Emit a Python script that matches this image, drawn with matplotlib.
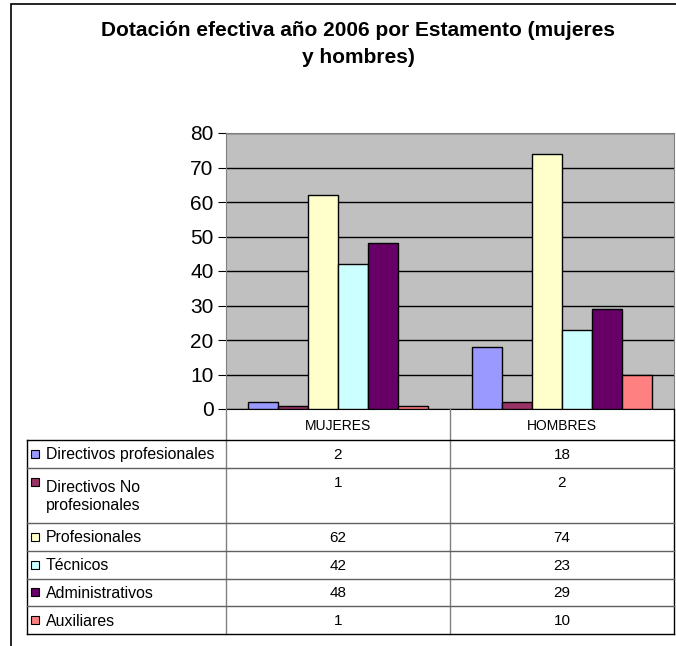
import matplotlib.pyplot as plt
import numpy as np
from matplotlib.patches import Rectangle

plt.rcParams['font.family'] = ['Liberation Sans', 'DejaVu Sans']

# ~~~~~~~~ DATA ~~~~~~~~
categories = ['MUJERES', 'HOMBRES']
series = ['Directivos profesionales', 'Directivos No\nprofesionales', 'Profesionales',
          'Técnicos', 'Administrativos', 'Auxiliares']
values = [[2, 18], [1, 2], [62, 74], [42, 23], [48, 29], [1, 10]]
colors = ['#9999FF', '#993366', '#FFFFCC', '#CCFFFF', '#660066', '#FF8080']
yticks = [0, 10, 20, 30, 40, 50, 60, 70, 80]
title = 'Dotación efectiva año 2006 por Estamento (mujeres\ny hombres)'

W, H = 676, 646
fig = plt.figure(figsize=(W / 100, H / 100), dpi=100)

# outer frame (cut off on right/bottom like the original)
fig.add_artist(Rectangle((11 / W, -0.1), 1.2, (H - 4) / H + 0.1, transform=fig.transFigure,
                         fill=False, edgecolor='black', lw=1.2))

fig.text(358 / W, 1 - 44 / H, title, ha='center', va='center', fontsize=15,
         fontweight='bold', linespacing=1.55)

# ~~~~~~~~ bar chart ~~~~~~~~
px_l, px_r, px_t, px_b = 226, 674, 133, 409
ax = fig.add_axes([px_l / W, 1 - px_b / H, (px_r - px_l) / W, (px_b - px_t) / H])
ax.set_facecolor('#C0C0C0')
x = np.arange(len(categories))
n = len(series)
bw = 0.8 / n
for i in range(n):
    ax.bar(x - 0.4 + bw * (i + 0.5), values[i], width=bw, color=colors[i],
           edgecolor='black', lw=1, zorder=3)
ax.set_xlim(-0.5, len(categories) - 0.5)
ax.set_ylim(0, 80)
ax.set_yticks(yticks)
ax.set_xticks([])
ax.tick_params(axis='y', labelsize=15, length=6, direction='out', pad=3)
ax.yaxis.grid(True, color='black', lw=1, zorder=1)
ax.set_axisbelow(True)
for s in ['left', 'top', 'right']:
    ax.spines[s].set_color('#808080')
ax.spines['bottom'].set_color('black')

# ~~~~~~~~ data table ~~~~~~~~
tax = fig.add_axes([0, 0, 1, 1])
tax.set_xlim(0, W)
tax.set_ylim(H, 0)
tax.axis('off')
t_left = 27
col_edges = [px_l, 450, px_r]
row_h = 27.7
heights = [2 if '\n' in s else 1 for s in series]
row_tops = [440]
for h in heights:
    row_tops.append(row_tops[-1] + h * row_h)

# header row
for j, c in enumerate(categories):
    tax.text((col_edges[j] + col_edges[j + 1]) / 2, (px_b + 440) / 2 + 1, c, ha='center',
             va='center', fontsize=10)
for xe in col_edges:
    tax.plot([xe, xe], [px_b, row_tops[-1]], color='#808080' if xe != px_r else 'black', lw=1)
tax.plot([t_left, t_left], [440, row_tops[-1]], color='black', lw=1)
for k, yy in enumerate(row_tops):
    c = 'black' if k in (0, len(row_tops) - 1) else '#606060'
    tax.plot([t_left, px_r], [yy, yy], color=c, lw=1)

for i, s in enumerate(series):
    yc = (row_tops[i] + row_tops[i + 1]) / 2
    y1 = row_tops[i] + row_h / 2
    tax.add_patch(Rectangle((31, y1 - 4), 8, 8, facecolor=colors[i], edgecolor='black', lw=0.8))
    tax.text(46, yc + 1, s, ha='left', va='center', fontsize=11.4, linespacing=1.2)
    for j in range(len(categories)):
        tax.text((col_edges[j] + col_edges[j + 1]) / 2, y1 + 1, str(values[i][j]), ha='center',
                 va='center', fontsize=11)

fig.savefig('out.png', dpi=100)
